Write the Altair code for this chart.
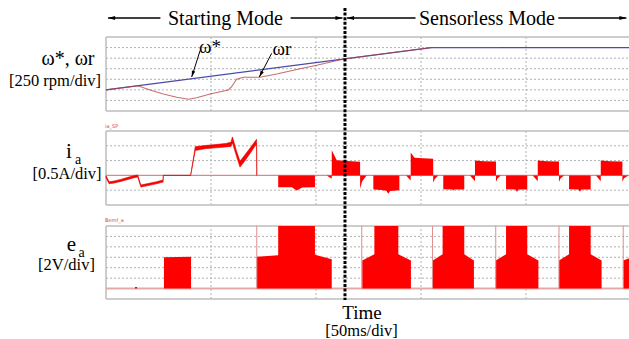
import altair as alt
import pandas as pd

# ===================== values =====================
# time axis in ms (50 ms/div), t = 0 at the left edge of the traces
switch_t = 113.8                      # starting mode -> sensorless mode
div_t = [50, 100, 150, 200]           # vertical division lines

# speed reference w* and actual speed wr (rpm, 250 rpm/div)
wref_t = [0, 155, 252]
wref_rpm = [500, 1500, 1500]
wr_t = [0, 15.2, 21.0, 27.3, 33.7, 39.2, 43.2, 49.5, 58.3, 59.8, 62.2, 65.4,
        73.3, 81.3, 92.4, 100.3, 113.8, 155, 187]
wr_rpm = [500, 598, 497, 402, 324, 277, 315, 402, 497, 575, 750, 797,
          797, 875, 1001, 1081, 1234, 1500, 1500]

# phase current i_a (A, 0.5 A/div): starting-mode ripple band
ia_band_t = [0, 1.5, 4, 7, 10, 13, 15.1, 16.6, 20, 24, 27.2, 27.3, 40.3,
             42.5, 47, 52, 57, 59.5, 60.2, 62, 63.8, 66, 69, 71.7, 71.8]
ia_band_lo = [-0.085, -0.285, -0.255, -0.205, -0.145, -0.085, -0.055, -0.395, -0.345, -0.285, -0.225, 0, 0,
              0.84, 0.90, 0.93, 0.96, 0.98, 1.10, 0.68, 0.28, 0.48, 0.78, 1.07, 0]
ia_band_hi = [-0.015, -0.215, -0.185, -0.135, -0.075, -0.015, 0.015, -0.325, -0.275, -0.215, -0.155, 0, 0,
              0.97, 1.01, 1.04, 1.08, 1.12, 1.30, 0.86, 0.48, 0.68, 0.96, 1.22, 0]

# phase current i_a: chopped blocks (filled to zero)
ia_t = [71.8, 82.0, 82.0, 88.5, 90.8, 93.5, 99.5, 99.5, 105.1, 107.5, 107.5, 109.9, 115, 121, 121, 122, 124.1,
        127.3, 127.3, 131, 133.5, 134.4, 135.3, 139.7, 139.7, 142.9, 145.1, 145.1, 146.9, 151, 155.8, 155.8, 156.6, 158.2,
        160.6, 160.6, 165, 165.3, 165.8, 170.6, 170.6, 173.3, 175.7, 175.7, 180, 185.7, 185.7, 186.5, 188,
        190.5, 190.5, 195, 195.7, 196.4, 200.6, 200.6, 203.2, 205.6, 205.6, 210, 215.7, 215.7, 216.5, 218.1,
        220.5, 220.5, 225, 225.7, 226.4, 230.8, 230.8, 233.3, 235.6, 235.6, 240, 245.9, 245.9, 246.7, 248.7, 252]
ia_v = [0, 0, -0.40, -0.40, -0.51, -0.41, -0.40, 0, 0, -0.11, 0.85, 0.51, 0.49, 0.46, -0.45, -0.20, 0,
        0, -0.48, -0.49, -0.52, -0.62, -0.53, -0.50, 0, 0, -0.17, 0.77, 0.60, 0.58, 0.56, -0.25, -0.12, 0,
        0, -0.47, -0.48, -0.52, -0.48, -0.48, 0, 0, -0.20, 0.50, 0.48, 0.47, -0.22, -0.10, 0,
        0, -0.47, -0.48, -0.56, -0.48, -0.48, 0, 0, -0.20, 0.50, 0.48, 0.47, -0.22, -0.10, 0,
        0, -0.47, -0.48, -0.55, -0.48, -0.48, 0, 0, -0.20, 0.50, 0.48, 0.47, -0.22, -0.10, 0, 0]

# back-EMF e_a (V, 2 V/div), tall parts clipped at the screen top (12 V)
ea_t = [0, 13.8, 13.8, 14.8, 14.8, 27.6, 27.6, 40.5, 40.5, 71.8, 71.8, 82.0, 82.0, 99.5, 99.5, 107.5, 107.5,
        122.0, 122.0, 127.8, 127.8, 139.2, 139.2, 145.2, 145.2,
        155.6, 155.6, 160.3, 160.3, 170.6, 170.6, 175.2, 175.2,
        185.6, 185.6, 190.5, 190.5, 200.6, 200.6, 205.9, 205.9,
        215.7, 215.7, 220.5, 220.5, 230.8, 230.8, 236.0, 236.0,
        246.3, 246.3, 252]
ea_v = [0, 0, 0.3, 0.3, 0, 0, 6.0, 6.1, 0, 0, 6.1, 6.4, 12, 12, 6.5, 5.6, 0,
        0, 5.4, 6.6, 12, 12, 6.6, 5.4, 0,
        0, 5.4, 6.6, 12, 12, 6.6, 5.4, 0,
        0, 5.4, 6.6, 12, 12, 6.6, 5.4, 0,
        0, 5.4, 6.6, 12, 12, 6.6, 5.4, 0,
        0, 5.4, 6.3]
ea_spike_t = [71.8, 121.8, 155.5, 185.6, 215.7, 246.3]

mode_name = ["Starting Mode", "Sensorless Mode"]
mode_t0 = [0, switch_t]
mode_t1 = [switch_t, 249]
mode_halfw = [31, 34]   # half text width (ms) for the gap in the arrow

# ===================== layout =====================
W, H = 629, 339
X0, PX_DIV, MS_DIV = 106, 105, 50


def t_at(px):
    return (px - X0) * MS_DIV / PX_DIV


T_END = t_at(W + 4)
XS = alt.Scale(domain=[t_at(0), t_at(W)], nice=False, zero=False)


def y_scale(top_px, bot_px, v_bot, v_top):
    k = (v_top - v_bot) / (bot_px - top_px)
    return alt.Scale(domain=[v_bot - (H - bot_px) * k, v_top + top_px * k], nice=False, zero=False)


SERIF = "Liberation Serif"
GRID = "#b0b0b0"
BORDER = "#bcbcbc"
RED = "#ff0000"

layers = []


def X(f):
    return alt.X(f, type="quantitative", scale=XS, axis=None)


def Y(f, ys):
    return alt.Y(f, type="quantitative", scale=ys, axis=None)


def add_frame(ys, lo, hi, hvals):
    vg = pd.DataFrame({"t": div_t, "a": lo, "b": hi})
    layers.append(alt.Chart(vg).mark_rule(color=GRID, strokeWidth=1, strokeDash=[2, 2]).encode(
        x=X("t"), y=Y("a", ys), y2="b:Q"))
    hg = pd.DataFrame({"v": hvals, "a": 0.0, "b": T_END})
    layers.append(alt.Chart(hg).mark_rule(color=GRID, strokeWidth=1, strokeDash=[2, 2]).encode(
        x=X("a"), x2="b:Q", y=Y("v", ys)))
    bd = pd.DataFrame({"x0": [0, 0, 0], "x1": [T_END, T_END, 0], "y0": [lo, hi, lo], "y1": [lo, hi, hi]})
    layers.append(alt.Chart(bd).mark_rule(color=BORDER, strokeWidth=1.5).encode(
        x=X("x0"), x2="x1:Q", y=Y("y0", ys), y2="y1:Q"))


# ---------- panel 1 : speed ----------
ys_w = y_scale(37, 111, 0, 1750)
add_frame(ys_w, 0, 1750, [250, 500, 750, 1000, 1250, 1500])
layers.append(alt.Chart(pd.DataFrame({"t": wref_t, "v": wref_rpm})).mark_line(
    color="#4a4aa8", strokeWidth=1.3).encode(x=X("t"), y=Y("v", ys_w)))
layers.append(alt.Chart(pd.DataFrame({"t": wr_t, "v": wr_rpm})).mark_line(
    color="#b83c3c", strokeWidth=1.1, opacity=0.75).encode(x=X("t"), y=Y("v", ys_w)))

# annotation arrows for w* and wr
ann = pd.DataFrame({"lab": ["ω*", "ωr"], "tt": [49.5, 83.8], "ty": [1360, 1324],
                    "t0": [44.8, 78.9], "y0": [1426, 1365], "t1": [40.8, 73.0], "y1": [804, 804],
                    "ang": [17.5, 27.6]})
layers.append(alt.Chart(ann).mark_rule(color="black", strokeWidth=1).encode(
    x=X("t0"), x2="t1:Q", y=Y("y0", ys_w), y2="y1:Q"))
layers.append(alt.Chart(ann).mark_point(shape="M0,0L-0.55,-2L0.55,-2Z", filled=True, opacity=1,
                                        color="black", size=40, strokeWidth=0).encode(
    x=X("t1"), y=Y("y1", ys_w), angle=alt.Angle("ang:Q", scale=None)))
layers.append(alt.Chart(ann).mark_text(font=SERIF, fontSize=19, color="black", baseline="alphabetic").encode(
    x=X("tt"), y=Y("ty", ys_w), text="lab:N"))

# ---------- panel 2 : phase current ----------
ys_i = y_scale(131, 205, -1.0, 1.5)
add_frame(ys_i, -1.0, 1.5, [-0.5, 0.5, 1.0])
layers.append(alt.Chart(pd.DataFrame({"a": [0.0], "b": [T_END], "v": [0.0]})).mark_rule(
    color="#d88a8a", strokeWidth=1.2).encode(x=X("a"), x2="b:Q", y=Y("v", ys_i)))
band = pd.DataFrame({"t": ia_band_t, "lo": ia_band_lo, "hi": ia_band_hi})
layers.append(alt.Chart(band).mark_area(color=RED, stroke="#e00000", strokeWidth=0.6).encode(
    x=X("t"), y=Y("lo", ys_i), y2="hi:Q"))
chop = pd.DataFrame({"t": ia_t, "v": ia_v})
chop["z"] = 0.0
layers.append(alt.Chart(chop).mark_area(color=RED).encode(
    x=X("t"), y=Y("v", ys_i), y2="z:Q"))

# ---------- panel 3 : back EMF ----------
ys_e = y_scale(226, 299, -2, 12)
add_frame(ys_e, -2, 12, [2, 4, 6, 8, 10])
layers.append(alt.Chart(pd.DataFrame({"a": [0.0], "b": [T_END], "v": [0.0]})).mark_rule(
    color="#e3a9a9", strokeWidth=2).encode(x=X("a"), x2="b:Q", y=Y("v", ys_e)))
emf = pd.DataFrame({"t": ea_t, "v": ea_v})
emf["z"] = 0.0
layers.append(alt.Chart(emf).mark_area(color=RED).encode(
    x=X("t"), y=Y("v", ys_e), y2="z:Q"))
layers.append(alt.Chart(pd.DataFrame({"t": ea_spike_t, "a": 0.0, "b": 12.0})).mark_rule(
    color="#e08c8c", strokeWidth=1).encode(x=X("t"), y=Y("a", ys_e), y2="b:Q"))

# ---------- overlay: mode arrows, switch line, labels ----------
segs = []
heads = []
for name, a, b, hw in zip(mode_name, mode_t0, mode_t1, mode_halfw):
    c = (a + b) / 2
    la, rb = a + 1.0, b - 1.2
    segs += [{"a": la, "b": c - hw}, {"a": c + hw, "b": rb}]
    heads += [{"t": la, "s": "M0,0L2,-0.55L2,0.55Z"}, {"t": rb, "s": "M0,0L-2,-0.55L-2,0.55Z"}]
layers.append(alt.Chart(pd.DataFrame(segs)).mark_rule(color="black", strokeWidth=1.4).encode(
    x=X("a"), x2="b:Q", y=alt.value(18)))
layers.append(alt.Chart(pd.DataFrame(heads)).mark_point(filled=True, opacity=1, color="black",
                                                        size=49, strokeWidth=0).encode(
    x=X("t"), y=alt.value(18), shape=alt.Shape("s:N", scale=None)))
mode_df = pd.DataFrame({"name": mode_name, "c": [(a + b) / 2 for a, b in zip(mode_t0, mode_t1)]})
layers.append(alt.Chart(mode_df).mark_text(font=SERIF, fontSize=20, color="black", baseline="alphabetic").encode(
    x=X("c"), y=alt.value(25), text="name:N"))

layers.append(alt.Chart(pd.DataFrame({"t": [switch_t]})).mark_rule(
    color="black", strokeWidth=3, strokeDash=[3, 1.6]).encode(x=X("t"), y=alt.value(8), y2=alt.value(300)))

labels = pd.DataFrame({
    "s": ["ω*, ωr", "[250 rpm/div]", "i", "a", "[0.5A/div]", "e", "a", "[2V/div]", "Time", "[50ms/div]"],
    "px": [68, 55, 69, 78, 67, 71.5, 81.5, 66.5, 362, 361.5],
    "py": [65, 86, 158, 164, 179, 251, 257, 270, 319, 336],
    "fs": [20, 16.5, 21, 14, 16.5, 21, 14, 16.5, 19, 16.5],
})
layers.append(alt.Chart(labels).mark_text(font=SERIF, color="black", baseline="alphabetic").encode(
    x=alt.X("px:Q", scale=None), y=alt.Y("py:Q", scale=None), text="s:N", size=alt.Size("fs:Q", scale=None)))

tiny = pd.DataFrame({"s": ["ia_SP", "Bemf_a"], "px": [105, 105], "py": [128, 222]})
layers.append(alt.Chart(tiny).mark_text(font="DejaVu Sans", fontSize=5, color="#e04040", align="left",
                                        baseline="alphabetic").encode(
    x=alt.X("px:Q", scale=None), y=alt.Y("py:Q", scale=None), text="s:N"))

chart = alt.layer(*layers).resolve_scale(y="independent").properties(
    width=W, height=H, padding=0, autosize=alt.AutoSizeParams(type="none"), background="white"
).configure_view(stroke=None)

chart.save("out.html", embed_options={"renderer": "svg", "actions": False})
